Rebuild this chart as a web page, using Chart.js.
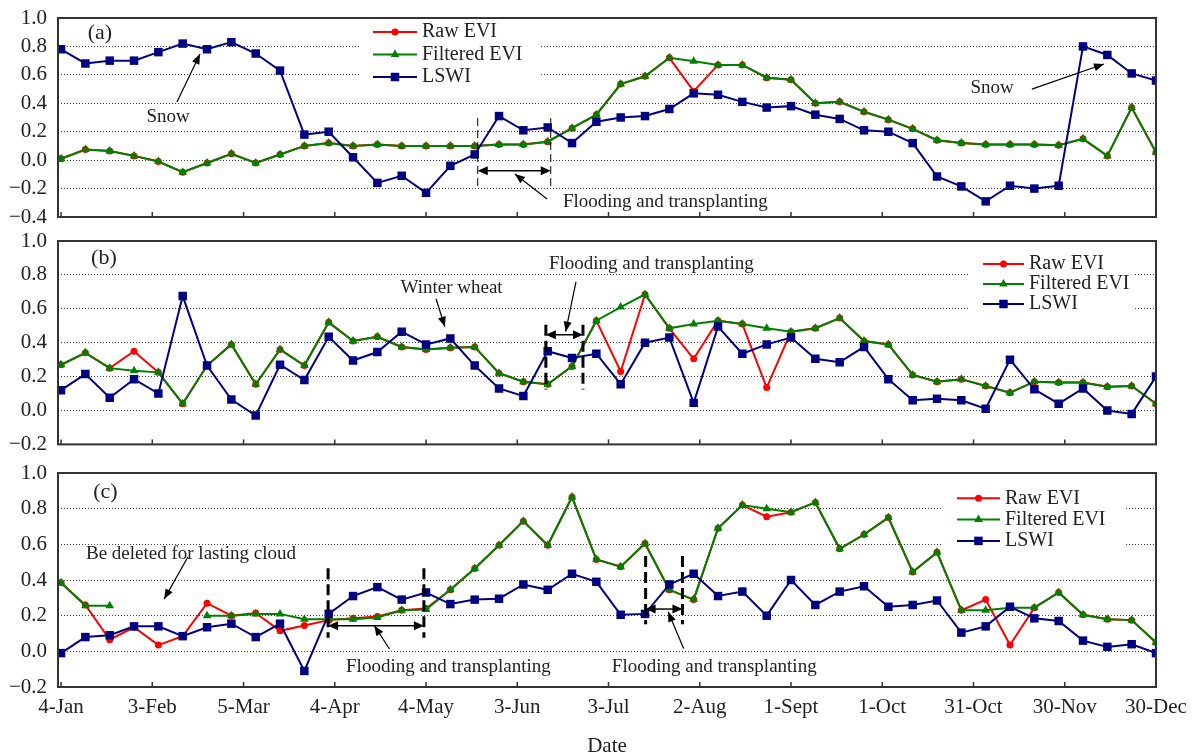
<!DOCTYPE html>
<html>
<head>
<meta charset="utf-8">
<script src="https://cdn.jsdelivr.net/npm/chart.js@4.4.0/dist/chart.umd.min.js"></script>
<style>
  body { margin: 0; background: #fff; }
  #wrap { position: relative; width: 1193px; height: 756px; overflow: hidden; }
  canvas { position: absolute; left: 0; }
</style>
</head>
<body>
<div id="wrap">
  <canvas id="chart-a" width="1193" height="232" style="top:0px"></canvas>
  <canvas id="chart-b" width="1193" height="232" style="top:225px"></canvas>
  <canvas id="chart-c" width="1193" height="301" style="top:455px"></canvas>
</div>
<script>
// 8-day composites, day offset from 4-Jan
const days = [0, 8, 16, 24, 32, 40, 48, 56, 64, 72, 80, 88, 96, 104, 112, 120, 128, 136, 144, 152,
              160, 168, 176, 184, 192, 200, 208, 216, 224, 232, 240, 248, 256, 264, 272, 280, 288, 296, 304, 312,
              320, 328, 336, 344, 352, 360];
const tickDays = [0, 30, 60, 90, 120, 150, 180, 210, 240, 270, 300, 330, 360];
const tickLabels = ['4-Jan', '3-Feb', '5-Mar', '4-Apr', '4-May', '3-Jun', '3-Jul', '2-Aug', '1-Sept', '1-Oct', '31-Oct', '30-Nov', '30-Dec'];

// (a)
const rawEviA = [0.01, 0.075, 0.065, 0.03, -0.01, -0.085, -0.02, 0.045, -0.02, 0.04,
                 0.10, 0.12, 0.10, 0.11, 0.10, 0.10, 0.10, 0.10, 0.11, 0.11,
                 0.13, 0.225, 0.32, 0.535, 0.59, 0.72, 0.485, 0.67, 0.67, 0.58,
                 0.565, 0.40, 0.41, 0.34, 0.285, 0.22, 0.14, 0.12, 0.11, 0.11,
                 0.11, 0.105, 0.15, 0.03, 0.37, 0.055];
const filtEviA = [0.01, 0.075, 0.065, 0.03, -0.01, -0.085, -0.02, 0.045, -0.02, 0.04,
                  0.10, 0.12, 0.10, 0.11, 0.10, 0.10, 0.10, 0.10, 0.11, 0.11,
                  0.13, 0.225, 0.32, 0.535, 0.59, 0.72, 0.695, 0.67, 0.67, 0.58,
                  0.565, 0.40, 0.41, 0.34, 0.285, 0.22, 0.14, 0.12, 0.11, 0.11,
                  0.11, 0.105, 0.15, 0.03, 0.37, 0.055];
const lswiA = [0.78, 0.68, 0.70, 0.70, 0.76, 0.82, 0.78, 0.83, 0.75, 0.63,
               0.18, 0.20, 0.02, -0.16, -0.11, -0.23, -0.04, 0.04, 0.31, 0.21,
               0.23, 0.12, 0.27, 0.30, 0.31, 0.36, 0.47, 0.46, 0.41, 0.37,
               0.38, 0.32, 0.29, 0.21, 0.20, 0.12, -0.115, -0.185, -0.29, -0.18,
               -0.20, -0.18, 0.80, 0.74, 0.61, 0.56];

// (b)
const rawEviB = [0.27, 0.34, 0.25, 0.35, 0.225, 0.04, 0.265, 0.39, 0.155, 0.36,
                 0.265, 0.52, 0.41, 0.435, 0.375, 0.36, 0.37, 0.375, 0.22, 0.17,
                 0.155, 0.26, 0.53, 0.23, 0.685, 0.485, 0.305, 0.53, 0.51, 0.135,
                 0.465, 0.485, 0.545, 0.41, 0.39, 0.21, 0.17, 0.185, 0.145, 0.105,
                 0.17, 0.165, 0.165, 0.14, 0.145, 0.04];
const filtEviB = [0.27, 0.34, 0.25, 0.235, 0.225, 0.04, 0.265, 0.39, 0.155, 0.36,
                  0.265, 0.52, 0.41, 0.435, 0.375, 0.36, 0.37, 0.375, 0.22, 0.17,
                  0.155, 0.26, 0.53, 0.61, 0.685, 0.485, 0.51, 0.53, 0.51, 0.485,
                  0.465, 0.485, 0.545, 0.41, 0.39, 0.21, 0.17, 0.185, 0.145, 0.105,
                  0.17, 0.165, 0.165, 0.14, 0.145, 0.04];
const lswiB = [0.12, 0.215, 0.075, 0.185, 0.10, 0.675, 0.265, 0.065, -0.03, 0.27,
               0.18, 0.435, 0.295, 0.345, 0.465, 0.39, 0.425, 0.265, 0.13, 0.085,
               0.35, 0.31, 0.335, 0.155, 0.40, 0.43, 0.045, 0.495, 0.335, 0.39,
               0.43, 0.305, 0.285, 0.375, 0.185, 0.06, 0.07, 0.06, 0.01, 0.30,
               0.125, 0.04, 0.13, 0.0, -0.02, 0.20];

// (c)
const rawEviC = [0.385, 0.26, 0.065, 0.135, 0.035, 0.085, 0.27, 0.20, 0.215, 0.115,
                 0.145, 0.175, 0.185, 0.195, 0.23, 0.24, 0.345, 0.465, 0.595, 0.73,
                 0.595, 0.865, 0.515, 0.475, 0.605, 0.345, 0.29, 0.69, 0.82, 0.755,
                 0.78, 0.835, 0.575, 0.655, 0.75, 0.445, 0.555, 0.23, 0.29, 0.035,
                 0.245, 0.33, 0.205, 0.18, 0.175, 0.05];
const filtEviC = [0.385, 0.255, 0.255, null, null, null, 0.20, 0.20, 0.21, 0.21,
                  0.18, 0.18, 0.18, 0.19, 0.23, 0.235, 0.345, 0.465, 0.595, 0.73,
                  0.595, 0.865, 0.515, 0.475, 0.605, 0.345, 0.29, 0.69, 0.82, 0.80,
                  0.78, 0.835, 0.575, 0.655, 0.75, 0.445, 0.555, 0.23, 0.23, 0.245,
                  0.245, 0.33, 0.205, 0.18, 0.175, 0.05];
const lswiC = [-0.01, 0.08, 0.09, 0.14, 0.14, 0.085, 0.135, 0.155, 0.08, 0.155,
               -0.11, 0.21, 0.31, 0.36, 0.29, 0.33, 0.265, 0.29, 0.295, 0.375,
               0.345, 0.435, 0.39, 0.205, 0.21, 0.375, 0.435, 0.31, 0.335, 0.20,
               0.40, 0.26, 0.335, 0.365, 0.25, 0.26, 0.285, 0.105, 0.14, 0.25,
               0.185, 0.17, 0.06, 0.025, 0.04, -0.01];

const RED = 'rgb(255,0,0)';
const GREEN = 'rgb(0,128,0)';
const NAVY = 'rgb(0,0,128)';
const SERIF = '"Liberation Serif", "Times New Roman", serif';
const TEXT = '#222';
const NONE = 'rgba(0,0,0,0)';

function drawArrowHead(ctx, x1, y1, x2, y2, len, half) {
    const a = Math.atan2(y2 - y1, x2 - x1);
    ctx.beginPath();
    ctx.moveTo(x2, y2);
    ctx.lineTo(x2 - len * Math.cos(a) + half * Math.sin(a), y2 - len * Math.sin(a) - half * Math.cos(a));
    ctx.lineTo(x2 - len * Math.cos(a) - half * Math.sin(a), y2 - len * Math.sin(a) + half * Math.cos(a));
    ctx.closePath();
    ctx.fill();
}

const panelPlugin = {
    id: 'panel',
    afterDatasetsDraw(chart, args, opts) {
        const ctx = chart.ctx;
        const area = chart.chartArea;
        const px = d => chart.scales.x.getPixelForValue(d);
        const py = v => chart.scales.y.getPixelForValue(v);
        ctx.save();

        // legend box (white, hides grid lines)
        const lg = opts.legend;
        ctx.fillStyle = '#fff';
        ctx.fillRect(lg.box[0], lg.box[1], lg.box[2], lg.box[3]);
        chart.data.datasets.forEach((ds, k) => {
            const y = lg.y + k * lg.dy;
            ctx.strokeStyle = ds.borderColor;
            ctx.lineWidth = 2;
            ctx.setLineDash([]);
            ctx.beginPath();
            ctx.moveTo(lg.x, y);
            ctx.lineTo(lg.x + lg.len, y);
            ctx.stroke();
            ctx.fillStyle = ds.borderColor;
            Chart.helpers.drawPoint(ctx, {pointStyle: ds.pointStyle, radius: ds.pointRadius, rotation: 0, borderWidth: 0}, lg.x + lg.len / 2, y);
            ctx.fillStyle = TEXT;
            ctx.font = '20px ' + SERIF;
            ctx.textAlign = 'left';
            ctx.textBaseline = 'middle';
            ctx.fillText(ds.label, lg.x + lg.len + 5, y);
        });

        // frame
        ctx.strokeStyle = '#333';
        ctx.lineWidth = 2;
        ctx.strokeRect(area.left, area.top, area.right - area.left, area.bottom - area.top);

        // inward tick marks on the date axis
        ctx.lineWidth = 1.5;
        tickDays.forEach(d => {
            const x = px(d);
            ctx.beginPath();
            ctx.moveTo(x, area.bottom);
            ctx.lineTo(x, area.bottom - 5);
            ctx.stroke();
        });

        // annotation texts
        opts.texts.forEach(t => {
            ctx.fillStyle = TEXT;
            ctx.font = (t.size || 19) + 'px ' + SERIF;
            ctx.textAlign = t.align || 'center';
            ctx.textBaseline = 'middle';
            ctx.fillText(t.t, px(t.d), py(t.v));
        });

        // arrows
        ctx.strokeStyle = '#000';
        ctx.fillStyle = '#000';
        opts.arrows.forEach(a => {
            const x1 = px(a[0]), y1 = py(a[1]), x2 = px(a[2]), y2 = py(a[3]);
            ctx.lineWidth = 1.2;
            ctx.setLineDash([]);
            ctx.beginPath();
            ctx.moveTo(x1, y1);
            ctx.lineTo(x2, y2);
            ctx.stroke();
            drawArrowHead(ctx, x1, y1, x2, y2, 10, 4);
        });

        // flooding spans: dashed bounds + double arrow
        opts.spans.forEach(s => {
            ctx.lineWidth = s.lw;
            ctx.setLineDash(s.dash);
            [s.d1, s.d2].forEach(d => {
                ctx.beginPath();
                ctx.moveTo(px(d), py(s.top));
                ctx.lineTo(px(d), py(s.bottom));
                ctx.stroke();
            });
            ctx.setLineDash([]);
            ctx.lineWidth = 1.5;
            const x1 = px(s.d1), x2 = px(s.d2), y = py(s.v);
            ctx.beginPath();
            ctx.moveTo(x1 + 6, y);
            ctx.lineTo(x2 - 6, y);
            ctx.stroke();
            drawArrowHead(ctx, x2, y, x1, y, 10, 4.5);
            drawArrowHead(ctx, x1, y, x2, y, 10, 4.5);
        });
        ctx.restore();
    }
};

function makePanel(canvasId, raw, filt, lswi, yMin, cfg) {
    const toPts = arr => days.map((d, i) => ({x: d, y: arr[i]}));
    return new Chart(document.getElementById(canvasId), {
        type: 'line',
        data: {
            datasets: [
                {label: 'Raw EVI', data: toPts(raw), borderColor: RED, backgroundColor: RED, borderWidth: 2,
                 pointStyle: 'circle', pointRadius: 3.5, pointBorderWidth: 0, order: 3},
                {label: 'Filtered EVI', data: toPts(filt), borderColor: GREEN, backgroundColor: GREEN, borderWidth: 2,
                 pointStyle: 'triangle', pointRadius: 5, pointBorderWidth: 0, order: 2},
                {label: 'LSWI', data: toPts(lswi), borderColor: NAVY, backgroundColor: NAVY, borderWidth: 2,
                 pointStyle: 'rect', pointRadius: 6, pointBorderWidth: 0, order: 1}
            ]
        },
        options: {
            responsive: false,
            animation: false,
            devicePixelRatio: 1,
            spanGaps: false,
            layout: {padding: cfg.padding},
            plugins: {
                legend: {display: false},
                tooltip: {enabled: false},
                panel: cfg
            },
            scales: {
                x: {
                    type: 'linear',
                    min: -1,
                    max: 360,
                    afterBuildTicks: s => { s.ticks = tickDays.map(v => ({value: v})); },
                    afterFit: s => { s.height = cfg.xHeight; },
                    grid: {display: true, drawOnChartArea: false, drawTicks: true, tickLength: 8, tickColor: NONE},
                    border: {display: false},
                    ticks: {
                        display: cfg.showX,
                        autoSkip: false,
                        maxRotation: 0,
                        padding: 0,
                        color: TEXT,
                        font: {family: SERIF, size: 21},
                        callback: v => tickLabels[tickDays.indexOf(v)]
                    },
                    title: {
                        display: cfg.showX,
                        text: 'Date',
                        color: TEXT,
                        padding: 0,
                        font: {family: SERIF, size: 21, lineHeight: 0.9}
                    }
                },
                y: {
                    min: yMin,
                    max: 1.0,
                    afterFit: s => { s.width = 58; },
                    ticks: {
                        stepSize: 0.2,
                        padding: 0,
                        color: TEXT,
                        font: {family: SERIF, size: 21},
                        callback: v => (v < -1e-6 ? '\u2212' : '') + Math.abs(v).toFixed(1)
                    },
                    grid: {
                        drawTicks: true,
                        tickLength: 11,
                        tickColor: NONE,
                        lineWidth: 1,
                        color: c => (Math.abs(c.tick.value - yMin) < 1e-6 || Math.abs(c.tick.value - 1) < 1e-6) ? NONE : '#444'
                    },
                    border: {display: false, dash: [1, 2]}
                }
            }
        },
        plugins: [panelPlugin]
    });
}

makePanel('chart-a', rawEviA, filtEviA, lswiA, -0.4, {
    padding: {left: 0, right: 37, top: 18, bottom: 15},
    xHeight: 0, showX: false,
    legend: {box: [360, 19, 179, 66], x: 373, len: 44, y: 32, dy: 22.5},
    texts: [
        {t: '(a)', d: 12.8, v: 0.894, size: 22},
        {t: 'Snow', d: 35.2, v: 0.30},
        {t: 'Snow', d: 306.1, v: 0.508},
        {t: 'Flooding and transplanting', d: 165.0, v: -0.292, align: 'left'}
    ],
    arrows: [[38.1, 0.409, 45.7, 0.747], [319.2, 0.50, 342.9, 0.676], [159.8, -0.273, 149.2, -0.097]],
    spans: [{d1: 137, d2: 161, v: -0.074, top: 0.296, bottom: -0.196, lw: 1, dash: [8, 4]}]
});

makePanel('chart-b', rawEviB, filtEviB, lswiB, -0.2, {
    padding: {left: 0, right: 37, top: 16, bottom: 12},
    xHeight: 0, showX: false,
    legend: {box: [969, 17, 165, 74], x: 983, len: 41, y: 39, dy: 20},
    texts: [
        {t: '(b)', d: 14.1, v: 0.90, size: 22},
        {t: 'Winter wheat', d: 128.4, v: 0.724},
        {t: 'Flooding and transplanting', d: 160.4, v: 0.865, align: 'left'}
    ],
    arrows: [[123.3, 0.659, 126.2, 0.494], [169.3, 0.759, 165.9, 0.465]],
    spans: [{d1: 159.4, d2: 171.6, v: 0.447, top: 0.506, bottom: 0.124, lw: 3, dash: [11, 5]}]
});

makePanel('chart-c', rawEviC, filtEviC, lswiC, -0.2, {
    padding: {left: 0, right: 37, top: 18, bottom: 0},
    xHeight: 69, showX: true,
    legend: {box: [941, 19, 184, 77], x: 957, len: 43, y: 43.3, dy: 21.3},
    texts: [
        {t: '(c)', d: 14.6, v: 0.895, size: 22},
        {t: 'Be deleted for lasting cloud', d: 8.2, v: 0.546, align: 'left'},
        {t: 'Flooding and transplanting', d: 93.7, v: -0.086, align: 'left'},
        {t: 'Flooding and transplanting', d: 181.1, v: -0.086, align: 'left'}
    ],
    arrows: [[41.7, 0.529, 33.9, 0.293], [108.0, 0.013, 103.0, 0.144], [204.7, 0.016, 199.6, 0.222]],
    spans: [
        {d1: 87.8, d2: 119.3, v: 0.144, top: 0.466, bottom: 0.076, lw: 3, dash: [11, 5]},
        {d1: 192.2, d2: 204.3, v: 0.237, top: 0.535, bottom: 0.152, lw: 3, dash: [11, 5]}
    ]
});
</script>
</body>
</html>
